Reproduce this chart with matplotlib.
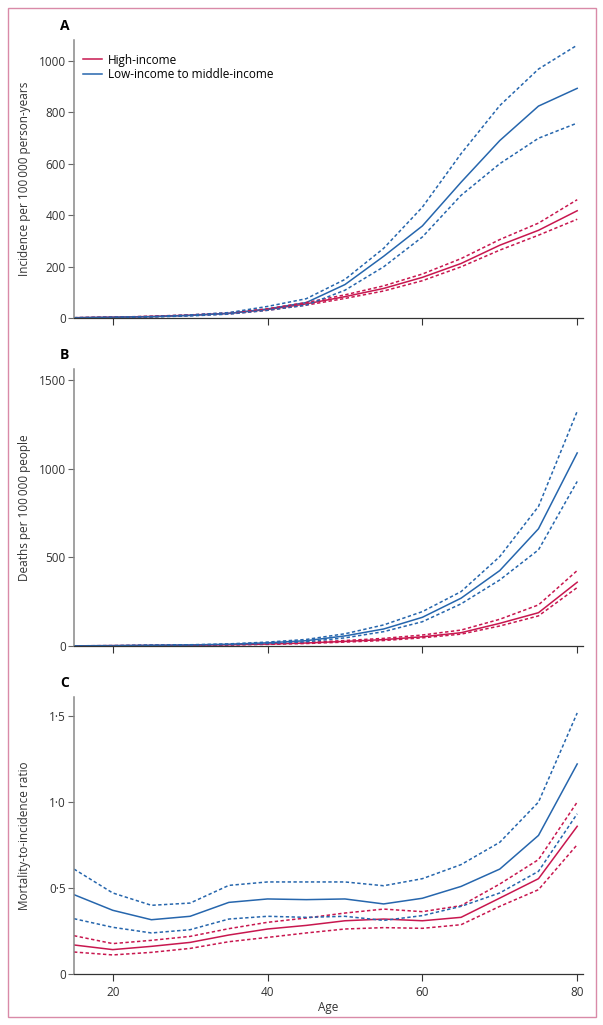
import matplotlib
matplotlib.use("Agg")
import matplotlib.pyplot as plt
from matplotlib.patches import Rectangle
from matplotlib.ticker import FuncFormatter

plt.rcParams['font.family'] = ['Open Sans', 'DejaVu Sans']

ages = [15, 20, 25, 30, 35, 40, 45, 50, 55, 60, 65, 70, 75, 80]

# A: incidence per 100 000 person-years
inc_hi = [1, 3, 6, 11, 18, 33, 55, 83, 115, 158, 212, 283, 341, 417]
inc_hi_lo = [1, 2, 5, 10, 16, 30, 50, 76, 105, 145, 199, 264, 322, 384]
inc_hi_up = [1, 3, 7, 12, 20, 36, 60, 90, 125, 171, 231, 305, 369, 460]
inc_lm = [1, 3, 5, 10, 18, 35, 60, 130, 240, 358, 528, 690, 824, 893]
inc_lm_lo = [1, 2, 4, 8, 15, 30, 50, 108, 199, 315, 477, 600, 699, 758]
inc_lm_up = [1, 3, 6, 12, 21, 45, 75, 150, 271, 431, 639, 826, 968, 1061]

# B: deaths per 100 000 people
dth_hi = [1, 2, 3, 4, 7, 11, 17, 26, 36, 52, 75, 128, 188, 360]
dth_hi_lo = [1, 1, 2, 3, 6, 9, 14, 22, 31, 46, 67, 113, 170, 330]
dth_hi_up = [1, 2, 3, 5, 8, 12, 20, 31, 43, 62, 90, 151, 232, 426]
dth_lm = [1, 2, 4, 6, 10, 18, 30, 57, 96, 162, 270, 426, 662, 1090]
dth_lm_lo = [1, 1, 3, 5, 8, 14, 24, 46, 81, 137, 238, 373, 543, 929]
dth_lm_up = [1, 2, 5, 7, 12, 22, 37, 69, 119, 194, 307, 505, 788, 1325]

# C: mortality-to-incidence ratio
mir_hi = [0.169, 0.142, 0.161, 0.184, 0.227, 0.262, 0.283, 0.310, 0.320, 0.310, 0.330, 0.442, 0.555, 0.860]
mir_hi_lo = [0.128, 0.111, 0.126, 0.149, 0.188, 0.213, 0.239, 0.262, 0.270, 0.266, 0.287, 0.394, 0.491, 0.753]
mir_hi_up = [0.223, 0.177, 0.196, 0.219, 0.264, 0.301, 0.326, 0.355, 0.378, 0.363, 0.398, 0.524, 0.666, 1.001]
mir_lm = [0.462, 0.371, 0.316, 0.336, 0.417, 0.437, 0.433, 0.437, 0.408, 0.441, 0.510, 0.611, 0.807, 1.223]
mir_lm_lo = [0.322, 0.272, 0.239, 0.258, 0.320, 0.336, 0.330, 0.336, 0.312, 0.340, 0.394, 0.472, 0.598, 0.933]
mir_lm_up = [0.611, 0.472, 0.400, 0.413, 0.516, 0.536, 0.536, 0.536, 0.514, 0.555, 0.637, 0.767, 1.001, 1.520]

RED = '#c8174f'
BLUE = '#2666ad'
PINK = '#d98aa8'
DASH = (0, (2.2, 1.6))

fig = plt.figure(figsize=(6.03, 10.25), dpi=100)

# pink frame around the whole figure
fig.patches.append(Rectangle((8 / 603, 1 - 1017 / 1025), 588 / 603, 1009 / 1025,
                             transform=fig.transFigure, fill=False,
                             edgecolor=PINK, linewidth=1.0))

boxes = [
    (74, 40, 318),
    (74, 369, 646),
    (74, 697, 974),
]

panels = [
    ('A', 'Incidence per 100\u2009000 person-years', (0, 1081), [0, 200, 400, 600, 800, 1000],
     (inc_hi, inc_hi_lo, inc_hi_up), (inc_lm, inc_lm_lo, inc_lm_up)),
    ('B', 'Deaths per 100\u2009000 people', (0, 1564), [0, 500, 1000, 1500],
     (dth_hi, dth_hi_lo, dth_hi_up), (dth_lm, dth_lm_lo, dth_lm_up)),
    ('C', 'Mortality-to-incidence ratio', (0, 1.613), [0, 0.5, 1.0, 1.5],
     (mir_hi, mir_hi_lo, mir_hi_up), (mir_lm, mir_lm_lo, mir_lm_up)),
]


def ratio_fmt(v, pos):
    if v == 0:
        return '0'
    return ('%.1f' % v).replace('.', '\u00b7')


axes = []
for (left, top, bottom), (letter, ylab, ylim, yticks, hi, lm) in zip(boxes, panels):
    ax = fig.add_axes([left / 603, 1 - bottom / 1025, 509 / 603, (bottom - top) / 1025])
    axes.append(ax)

    ax.plot(ages, hi[0], color=RED, lw=1.1, label='High-income')
    ax.plot(ages, lm[0], color=BLUE, lw=1.1, label='Low-income to middle-income')
    for s in hi[1:]:
        ax.plot(ages, s, color=RED, lw=1.1, linestyle=DASH)
    for s in lm[1:]:
        ax.plot(ages, s, color=BLUE, lw=1.1, linestyle=DASH)

    ax.set_xlim(15, 80.75)
    ax.set_ylim(*ylim)
    ax.set_yticks(yticks)
    ax.set_xticks([20, 40, 60, 80])
    ax.set_ylabel(ylab, fontsize=8.5, color='#333333')
    ax.yaxis.set_label_coords(-0.084, 0.5)

    for side in ('top', 'right'):
        ax.spines[side].set_visible(False)
    ax.spines['left'].set_color('#888888')
    ax.spines['left'].set_linewidth(1.1)
    ax.spines['bottom'].set_color('#333333')
    ax.spines['bottom'].set_linewidth(0.9)
    ax.tick_params(axis='y', direction='out', length=4, width=0.8, color='#666666',
                   labelsize=8.5, labelcolor='#333333', pad=2)
    ax.tick_params(axis='x', direction='out', length=5, width=0.8, color='#333333',
                   labelsize=8.5, labelcolor='#333333', pad=4)

    fig.text(60 / 603, 1 - (top - 14) / 1025, letter, fontsize=10, fontweight='bold',
             ha='left', va='center')

axes[0].tick_params(axis='x', labelbottom=False)
axes[1].tick_params(axis='x', labelbottom=False)
axes[2].yaxis.set_major_formatter(FuncFormatter(ratio_fmt))
axes[2].set_xlabel('Age', fontsize=8.5, color='#333333', labelpad=1)

axes[0].legend(loc='upper left', bbox_to_anchor=(0.0, 0.985), frameon=False, fontsize=8.5,
               handlelength=1.6, handletextpad=0.5, labelspacing=0.15, borderaxespad=0.4)

fig.savefig('out.png', dpi=100)
